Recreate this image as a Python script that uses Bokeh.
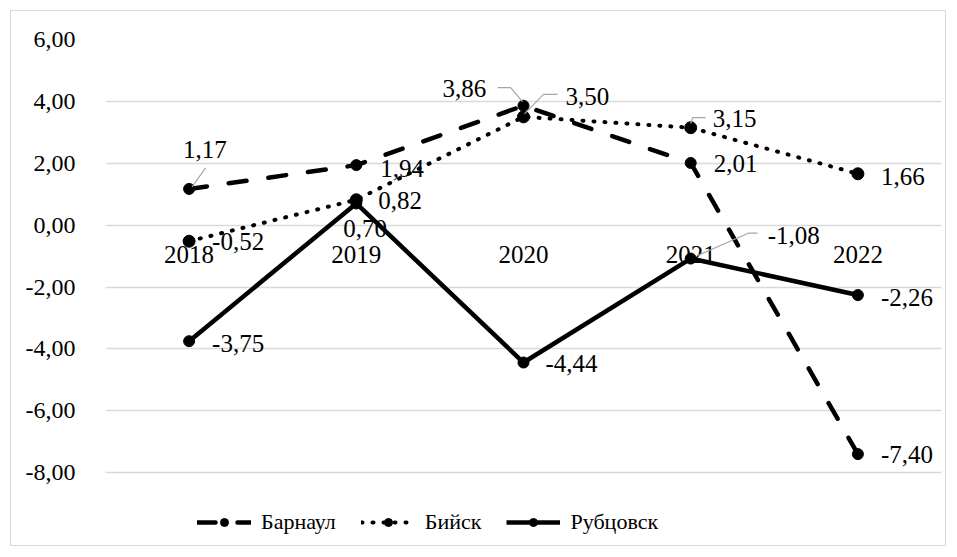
from bokeh.plotting import figure
from bokeh.models import Range1d, FixedTicker, Legend, LegendItem, ColumnDataSource
from bokeh.embed import file_html
from bokeh.resources import INLINE

years = ["2018", "2019", "2020", "2021", "2022"]
barnaul = [1.17, 1.94, 3.86, 2.01, -7.40]
biysk = [-0.52, 0.82, 3.50, 3.15, 1.66]
rubtsovsk = [-3.75, 0.70, -4.44, -1.08, -2.26]
series_names = ["Барнаул", "Бийск", "Рубцовск"]
y_ticks = [-8, -6, -4, -2, 0, 2, 4, 6]

FONT = "'Liberation Serif', 'Times New Roman', serif"
W, H = 936, 536
FL, FR, FT, FB = 94, 6, 28, 2
UNIT_PX = 30.94  # pixels per 1.0 on the value axis
xs = list(range(len(years)))
x_lo, x_hi = -0.5, len(years) - 0.5
y_hi = 6
frame_h = H - FT - FB
y_lo = y_hi - frame_h / UNIT_PX  # extra room below -8 holds the legend
px_x = (W - FL - FR) / (x_hi - x_lo)
px_y = UNIT_PX

p = figure(width=W, height=H, output_backend="svg", toolbar_location=None,
           x_range=Range1d(x_lo, x_hi), y_range=Range1d(y_lo, y_hi),
           min_border_left=FL, min_border_right=FR, min_border_top=FT, min_border_bottom=FB,
           margin=(10, 0, 0, 10), styles={"border": "1px solid #d9d9d9"})
p.outline_line_color = None
p.background_fill_color = "white"
p.border_fill_color = "white"

# axes
p.yaxis.ticker = FixedTicker(ticks=y_ticks)
p.yaxis.major_label_overrides = {t: f"{t:.2f}".replace(".", ",") for t in y_ticks}
p.yaxis.axis_line_color = None
p.yaxis.major_tick_line_color = None
p.yaxis.minor_tick_line_color = None
p.yaxis.major_label_standoff = 24
p.yaxis.major_label_text_font = FONT
p.yaxis.major_label_text_font_size = "24px"
p.yaxis.major_label_text_color = "black"
p.xaxis.visible = False

p.xgrid.grid_line_color = None
p.ygrid.ticker = FixedTicker(ticks=y_ticks)
p.ygrid.grid_line_color = "#d9d9d9"
p.ygrid.grid_line_width = 1.5

# category labels sit at the y=0 crossing (as in the original)
p.text(x=xs, y=[0] * len(xs), text=years, y_offset=29,
       text_font={"value": FONT}, text_font_size="25px", text_color="black",
       text_align="center", text_baseline="middle")

# series
r1 = p.line(xs, barnaul, line_color="black", line_width=4.5, line_dash="18 22", line_cap="round")
m1 = p.scatter(xs, barnaul, size=11, color="black")
r2 = p.line(xs, biysk, line_color="black", line_width=4, line_dash="1 10", line_cap="round")
m2 = p.scatter(xs, biysk, size=12, color="black")
r3 = p.line(xs, rubtsovsk, line_color="black", line_width=4.5)
m3 = p.scatter(xs, rubtsovsk, size=11, color="black")

# data label offsets in px (left edge, vertical centre) relative to point
offsets = {
    0: [(-6, -39), (24, 3), (-81, -17), (23, 1), (23, 0)],
    1: [(23, 0), (22, 1), (42, -20), (22, -9), (23, 3)],
    2: [(23, 2), (-13, 25), (22, 1), (77, -23), (23, 2)],
}
all_series = [barnaul, biysk, rubtsovsk]
lx, ly, lt, ox, oy = [], [], [], [], []
for si, vals in enumerate(all_series):
    for i, v in enumerate(vals):
        lx.append(xs[i]); ly.append(v)
        lt.append(f"{v:.2f}".replace(".", ","))
        ox.append(offsets[si][i][0]); oy.append(offsets[si][i][1])
src = ColumnDataSource(dict(x=lx, y=ly, text=lt, xo=ox, yo=oy))
p.text(x="x", y="y", text="text", x_offset="xo", y_offset="yo", source=src,
       text_font={"value": FONT}, text_font_size="25px", text_color="black",
       text_align="left", text_baseline="middle")

# leader lines (series index, point index, px offsets)
leaders = [
    (0, 0, [(16.5, -21), (3, -2)]),
    (0, 2, [(-26, -18), (-13, -18), (-1, -4)]),
    (1, 2, [(34, -22.5), (20, -22.5), (1, -3)]),
    (1, 3, [(15, -10), (2, -10), (0, -4)]),
    (2, 3, [(67, -25.5), (58, -25.5), (7, -3)]),
]
lxs, lys = [], []
for si, i, pts in leaders:
    x0, y0 = xs[i], all_series[si][i]
    lxs.append([x0 + dx / px_x for dx, dy in pts])
    lys.append([y0 - dy / px_y for dx, dy in pts])
p.multi_line(lxs, lys, line_color="#a6a6a6", line_width=1.2)

legend = Legend(items=[LegendItem(label=series_names[0], renderers=[r1, m1]),
                       LegendItem(label=series_names[1], renderers=[r2, m2]),
                       LegendItem(label=series_names[2], renderers=[r3, m3])],
                orientation="horizontal", location=(92, 10),
                label_text_font=FONT, label_text_font_size="22px", label_text_color="black",
                glyph_width=54, glyph_height=20, label_standoff=10, spacing=25,
                border_line_color=None, background_fill_alpha=0, padding=0, margin=0)
p.add_layout(legend)

open("out.html", "w").write(file_html(p, INLINE))
